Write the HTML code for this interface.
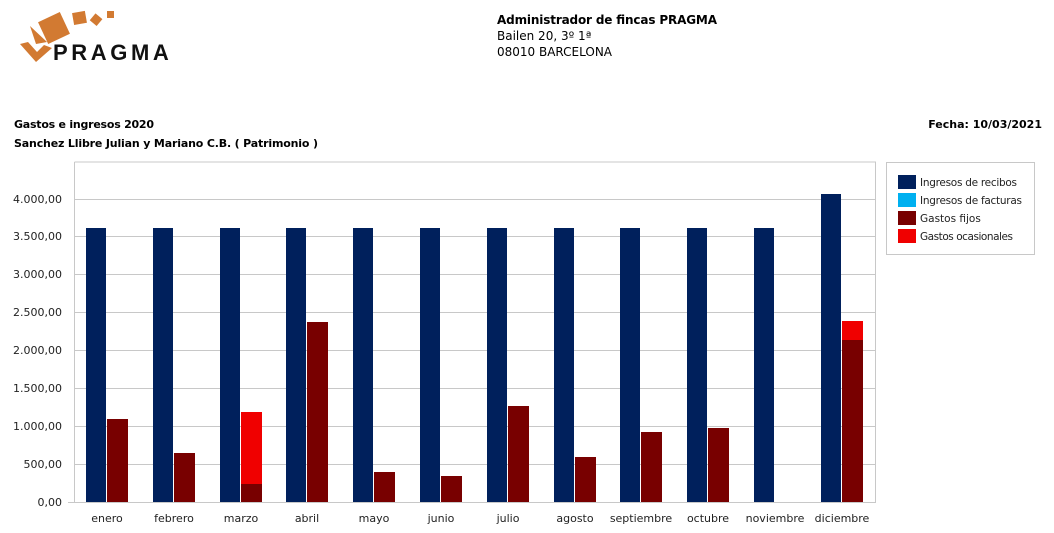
<!DOCTYPE html>
<html><head><meta charset="utf-8"><style>
body{margin:0;background:#fff;width:1054px;height:529px;overflow:hidden;font-family:"DejaVu Sans","Liberation Sans",sans-serif}
</style></head><body>
<svg width="1054" height="529" xmlns="http://www.w3.org/2000/svg" font-family="DejaVu Sans, Liberation Sans, sans-serif">
<!-- logo -->
<g fill="#d27a32">
<rect x="42" y="16" width="24" height="24" transform="rotate(-25 54 28)"/>
<rect x="73" y="12" width="13" height="12" transform="rotate(-10 79 18)"/>
<rect x="92" y="15" width="9" height="9" transform="rotate(40 96 19)"/>
<rect x="107" y="11" width="7" height="7"/>
<polygon points="30,26 47,42 36,44"/>
<polygon points="20,44 36,62 52,48 44,45 37,52 28,42"/>
</g>
<text x="53" y="60" font-family="Liberation Sans, sans-serif" font-weight="bold" font-size="22" fill="#111" letter-spacing="1.2" textLength="117">PRAGMA</text>
<!-- header -->
<text x="497" y="24" font-size="12" font-weight="bold" fill="#000" textLength="220">Administrador de fincas PRAGMA</text>
<text x="497" y="40" font-size="12" fill="#000">Bailen 20, 3º 1ª</text>
<text x="497" y="56" font-size="12" fill="#000">08010 BARCELONA</text>
<text x="14" y="128" font-size="11" font-weight="bold" fill="#000" textLength="140">Gastos e ingresos 2020</text>
<text x="14" y="147" font-size="11" font-weight="bold" fill="#000" textLength="304">Sanchez Llibre Julian y Mariano C.B. ( Patrimonio )</text>
<text x="1042" y="128" font-size="11" font-weight="bold" fill="#000" text-anchor="end">Fecha: 10/03/2021</text>
<!-- plot frame -->
<g stroke="#c8c8c8" stroke-width="1" fill="none">
<line x1="74.5" y1="162" x2="876" y2="162"/>
<line x1="875.5" y1="162" x2="875.5" y2="502"/>
<line x1="74.5" y1="162" x2="74.5" y2="502"/>
<line x1="74" y1="464.5" x2="876" y2="464.5"/>
<line x1="74" y1="426.5" x2="876" y2="426.5"/>
<line x1="74" y1="388.5" x2="876" y2="388.5"/>
<line x1="74" y1="350.5" x2="876" y2="350.5"/>
<line x1="74" y1="312.5" x2="876" y2="312.5"/>
<line x1="74" y1="274.5" x2="876" y2="274.5"/>
<line x1="74" y1="236.5" x2="876" y2="236.5"/>
<line x1="74" y1="199.5" x2="876" y2="199.5"/>
<line x1="68" y1="502.5" x2="876" y2="502.5"/>
</g>
<g font-size="11" fill="#222" text-anchor="end">
<text x="62" y="506">0,00</text>
<text x="62" y="468">500,00</text>
<text x="62" y="430">1.000,00</text>
<text x="62" y="392">1.500,00</text>
<text x="62" y="354">2.000,00</text>
<text x="62" y="316">2.500,00</text>
<text x="62" y="278">3.000,00</text>
<text x="62" y="240">3.500,00</text>
<text x="62" y="203">4.000,00</text>
</g>
<g fill="#00205c">
<rect x="86" y="228" width="20" height="274"/>
<rect x="153" y="228" width="20" height="274"/>
<rect x="220" y="228" width="20" height="274"/>
<rect x="286" y="228" width="20" height="274"/>
<rect x="353" y="228" width="20" height="274"/>
<rect x="420" y="228" width="20" height="274"/>
<rect x="487" y="228" width="20" height="274"/>
<rect x="554" y="228" width="20" height="274"/>
<rect x="620" y="228" width="20" height="274"/>
<rect x="687" y="228" width="20" height="274"/>
<rect x="754" y="228" width="20" height="274"/>
<rect x="821" y="194" width="20" height="308"/>
</g>
<g fill="#780000">
<rect x="107" y="419" width="21" height="83"/>
<rect x="174" y="453" width="21" height="49"/>
<rect x="241" y="484" width="21" height="18"/>
<rect x="307" y="322" width="21" height="180"/>
<rect x="374" y="472" width="21" height="30"/>
<rect x="441" y="476" width="21" height="26"/>
<rect x="508" y="406" width="21" height="96"/>
<rect x="575" y="457" width="21" height="45"/>
<rect x="641" y="432" width="21" height="70"/>
<rect x="708" y="428" width="21" height="74"/>
<rect x="842" y="340" width="21" height="162"/>
</g>
<g fill="#f00000">
<rect x="241" y="412" width="21" height="72"/>
<rect x="842" y="321" width="21" height="19"/>
</g>
<g font-size="11" fill="#222" text-anchor="middle">
<text x="107" y="522">enero</text>
<text x="174" y="522">febrero</text>
<text x="241" y="522">marzo</text>
<text x="307" y="522">abril</text>
<text x="374" y="522">mayo</text>
<text x="441" y="522">junio</text>
<text x="508" y="522">julio</text>
<text x="575" y="522">agosto</text>
<text x="641" y="522">septiembre</text>
<text x="708" y="522">octubre</text>
<text x="775" y="522">noviembre</text>
<text x="842" y="522">diciembre</text>
</g>
<!-- legend -->
<rect x="886.5" y="162.5" width="148" height="92" fill="#fff" stroke="#c8c8c8"/>
<rect x="898" y="175" width="18" height="14" fill="#00205c"/>
<rect x="898" y="193" width="18" height="14" fill="#00b0f0"/>
<rect x="898" y="211" width="18" height="14" fill="#780000"/>
<rect x="898" y="229" width="18" height="14" fill="#f00000"/>
<g font-size="10.5" fill="#222">
<text x="920" y="186" textLength="97">Ingresos de recibos</text>
<text x="920" y="204" textLength="102">Ingresos de facturas</text>
<text x="920" y="222">Gastos fijos</text>
<text x="920" y="240" textLength="93">Gastos ocasionales</text>
</g>
</svg>
</body></html>
